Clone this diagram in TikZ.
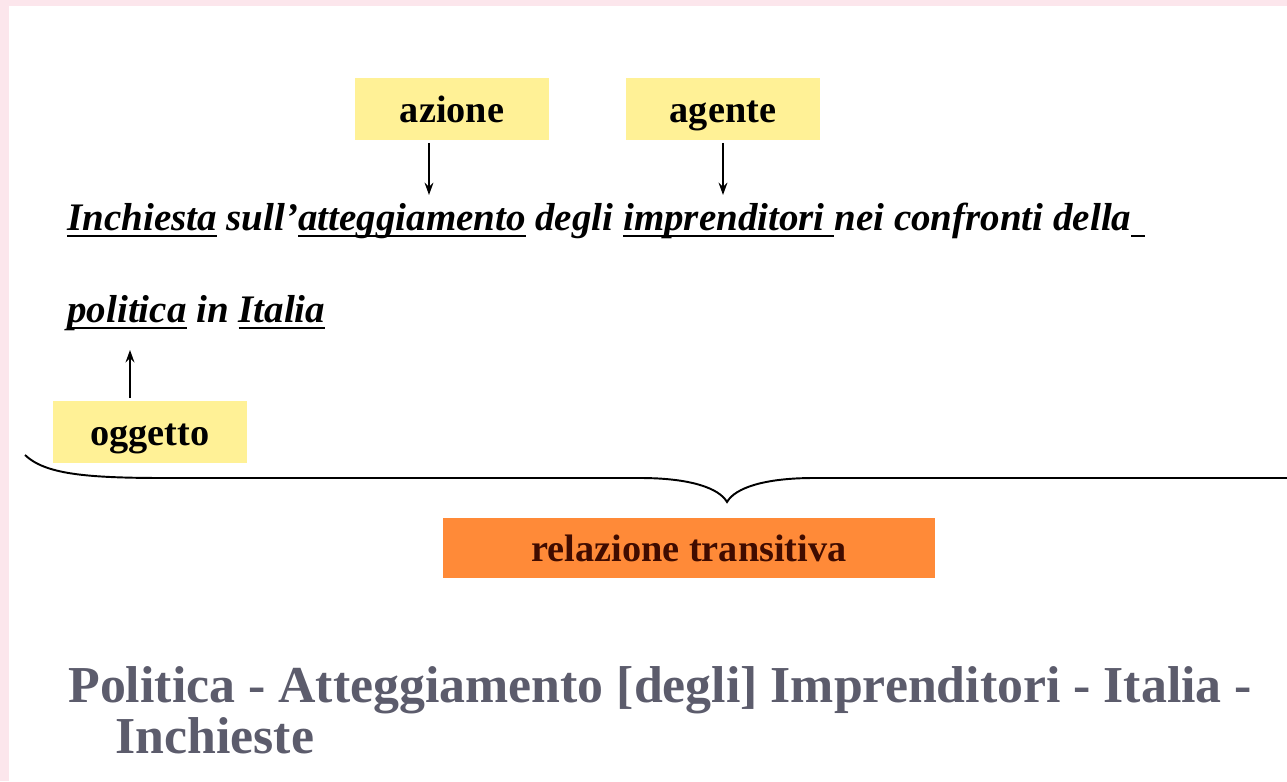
\documentclass[tikz,border=0pt]{standalone}
\usepackage{fontspec}
\setmainfont{Liberation Serif}
\usepackage{tikz}
\usetikzlibrary{arrows.meta}
\usepackage{xcolor}

\definecolor{slidepink}{RGB}{252,230,236}
\definecolor{tagyellow}{RGB}{255,241,150}
\definecolor{relorange}{RGB}{255,138,56}
\definecolor{reltext}{RGB}{64,12,0}
\definecolor{termgrey}{RGB}{92,92,108}

% underline with a thicker rule
\newcommand{\lineunder}[1]{\leavevmode\setbox0\hbox{#1}\rlap{\rule[-4.2pt]{\wd0}{1.1pt}}\box0\relax}

\tikzset{
  tag/.style={fill=tagyellow, inner sep=0pt, minimum width=3.9cm, minimum height=1.24cm,
    text height=17.4pt, text depth=2.6pt, font=\fontsize{21.8}{24}\selectfont\bfseries},
  sentence/.style={anchor=base west, inner sep=0pt,
    font=\fontsize{22.2}{24}\selectfont\bfseries\itshape},
  term/.style={anchor=base west, inner sep=0pt, text=termgrey,
    font=\fontsize{29.5}{32}\selectfont\bfseries},
  pointer/.style={-{Stealth[length=7pt,width=5pt]}, line width=1.1pt, shorten <=1.5pt}
}

\begin{document}
\begin{tikzpicture}[x=0.02cm,y=-0.02cm]

\useasboundingbox (0,0) rectangle (1287,781);
\fill[slidepink] (0,0) rectangle (1287,781);
\fill[white] (9,6) rectangle (1287,781);

% labels
\node[tag] (azione) at (452,109) {azione};
\node[tag] (agente) at (723,109) {agente};
\node[tag] (oggetto) at (150,432) {oggetto};

% the title
\node[sentence] (riga1) at (67,230) {\lineunder{Inchiesta} sull’\lineunder{atteggiamento} degli \lineunder{imprenditori\ }nei confronti della\lineunder{\hspace{0.35em}}};
\node[sentence] (riga2) at (67,322) {\lineunder{politica} in \lineunder{Italia}};

\coordinate (azTip) at (429,195);
\coordinate (agTip) at (723,195);
\coordinate (ogTip) at (130,350);
\draw[pointer] (azione.south -| azTip) -- (azTip);
\draw[pointer] (agente.south -| agTip) -- (agTip);
\draw[pointer] (oggetto.north -| ogTip) -- (ogTip);

% brace
\draw[line width=1.1pt] (25,455) .. controls (45,474) and (85,478) .. (165,478) -- (640,478)
  .. controls (690,478) and (719,488) .. (727,502)
  .. controls (735,488) and (764,478) .. (814,478) -- (1287,478);

\node[fill=relorange, inner sep=0pt, minimum width=9.84cm, minimum height=1.2cm,
  text height=17.4pt, text depth=2.6pt,
  text=reltext, font=\fontsize{21.8}{24}\selectfont\bfseries] (relazione) at (689,548) {relazione transitiva};

% soggetto
\node[term] (voce1) at (68,702) {Politica - Atteggiamento [degli] Imprenditori - Italia -};
\node[term] (voce2) at (115,753) {Inchieste};

\end{tikzpicture}
\end{document}
